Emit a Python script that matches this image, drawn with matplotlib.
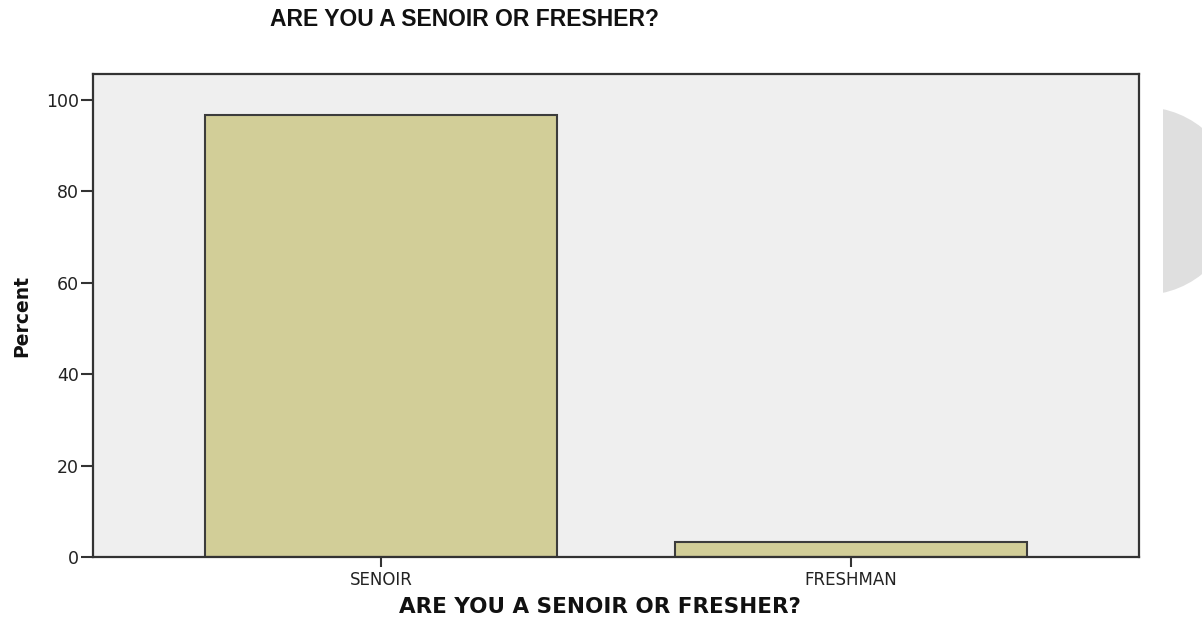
import matplotlib
matplotlib.use("Agg")
import matplotlib.pyplot as plt
from matplotlib.patches import Ellipse, Rectangle

categories = ["SENOIR", "FRESHMAN"]
percent = [96.7, 3.3]
yticks = [0, 20, 40, 60, 80, 100]
title = "ARE YOU A SENOIR OR FRESHER?"

W, H = 1202, 622
fig = plt.figure(figsize=(W / 100, H / 100), dpi=100)
fig.patch.set_facecolor("white")

ax = fig.add_axes([93 / W, 1 - 557 / H, (1139 - 93) / W, (557 - 74) / H])
ax.set_facecolor("#efefef")
x = list(range(len(categories)))
ax.bar(x, percent, width=0.75, color="#d2ce98", edgecolor="#3c3c3c", linewidth=1.5, zorder=2)
ax.set_xlim(-0.613, 1.613)
ax.set_ylim(0, 105.7)
ax.set_xticks(x)
ax.set_xticklabels(categories, fontsize=12, family="DejaVu Sans", color="#222222")
ax.set_yticks(yticks)
ax.set_yticklabels([str(v) for v in yticks], fontsize=12.5, family="DejaVu Sans", color="#222222")
ax.tick_params(axis="y", direction="out", length=9, width=1.5, color="#333333", pad=1)
ax.tick_params(axis="x", direction="out", length=7, width=1.5, color="#333333", pad=3)
for s in ax.spines.values():
    s.set_color("#333333")
    s.set_linewidth(1.6)

fig.text(465 / W, 1 - 19 / H, title, ha="center", va="center",
         fontsize=16.5, fontweight="bold", family="Liberation Sans", color="#111111")
fig.text(600 / W, 1 - 607 / H, title, ha="center", va="center",
         fontsize=15.5, fontweight="bold", family="DejaVu Sans", color="#111111")
fig.text(22 / W, 1 - 316 / H, "Percent", ha="center", va="center", rotation=90,
         fontsize=13.5, fontweight="bold", family=["Liberation Sans Narrow", "DejaVu Sans"],
         color="#111111")

# decorative grey disc at right edge
clip = Rectangle((1163 / W, 0), 1, 1, transform=fig.transFigure, visible=False)
fig.add_artist(clip)
disc = Ellipse((1143 / W, 1 - 201 / H), 2 * 94 / W, 2 * 94 / H,
               transform=fig.transFigure, facecolor="#dfdfdf", edgecolor="none")
fig.add_artist(disc)
disc.set_clip_path(clip)

fig.savefig("out.png", dpi=100)
